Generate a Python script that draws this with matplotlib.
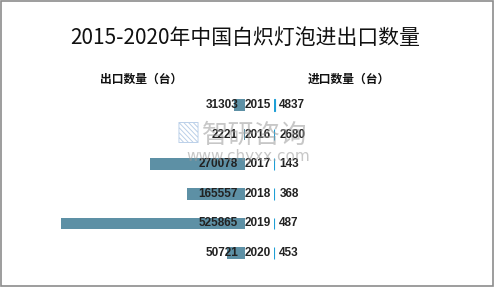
import matplotlib.pyplot as plt
from matplotlib.patches import Rectangle

plt.rcParams['font.family'] = ['Noto Sans CJK SC', 'DejaVu Sans']

years = ["2015", "2016", "2017", "2018", "2019", "2020"]
exports = [31303, 2221, 270078, 165557, 525865, 50721]
imports = [4837, 2680, 143, 368, 487, 453]

W, H = 494, 287
BAR_COLOR = "#5d90a5"
IMP_COLOR = "#1e9fd6"

fig = plt.figure(figsize=(W / 100, H / 100), dpi=100)

# frame around the picture
fig.add_artist(Rectangle((0.002, 0.003), 0.995, 0.993, transform=fig.transFigure,
                         fill=False, edgecolor="#8c8c8c", linewidth=1.2))

xmax = max(exports)
ypos = list(range(len(years)))

# left panel: exports (bars grow to the left)
axl = fig.add_axes([61 / W, 1 - 268 / H, 184 / W, 178 / H])
axl.barh(ypos, exports, height=0.4, color=BAR_COLOR)
axl.set_xlim(xmax, 0)
axl.set_ylim(len(years) - 0.5, -0.5)
axl.axis("off")

# right panel: imports, same scale
axr = fig.add_axes([273.5 / W, 1 - 268 / H, 184 / W, 178 / H])
axr.barh(ypos, imports, height=0.4, color=IMP_COLOR, edgecolor=IMP_COLOR, linewidth=0.8)
axr.set_xlim(0, xmax)
axr.set_ylim(len(years) - 0.5, -0.5)
axr.axis("off")

num_font = dict(family="Liberation Sans", fontweight="bold", fontsize=8.5, color="#222222")
for i, y in enumerate(years):
    axl.annotate(f"{exports[i]}", (0, i), xytext=(-5, 0), textcoords="offset points",
                 ha="right", va="center", **num_font)
    axl.annotate(y, (0, i), xytext=(0, 0), textcoords="offset points",
                 ha="left", va="center", **num_font)
    axr.annotate(f"{imports[i]}", (0, i), xytext=(4.2, 0), textcoords="offset points",
                 ha="left", va="center", **num_font)

fig.text(245.5 / W, 1 - 38 / H, "2015-2020年中国白炽灯泡进出口数量",
         ha="center", va="center", fontsize=15, color="#111111")
fig.text(141.5 / W, 1 - 79 / H, "出口数量（台）", ha="center", va="center",
         fontsize=8.5, fontweight="bold", color="#111111")
fig.text(349 / W, 1 - 79 / H, "进口数量（台）", ha="center", va="center",
         fontsize=8.5, fontweight="bold", color="#111111")

# watermark
fig.text(188 / W, 1 - 135 / H, "\u25a7", ha="center", va="center",
         fontsize=18, color="#8aaed8", alpha=0.6)
fig.text(255 / W, 1 - 135 / H, "智研咨询", ha="center", va="center",
         fontsize=19, color="#9a9a9a", alpha=0.55)
fig.text(248 / W, 1 - 157 / H, "www.chyxx.com", ha="center", va="center",
         fontsize=11, color="#9a9a9a", alpha=0.55, family="DejaVu Sans")

fig.savefig("out.png", dpi=100)
